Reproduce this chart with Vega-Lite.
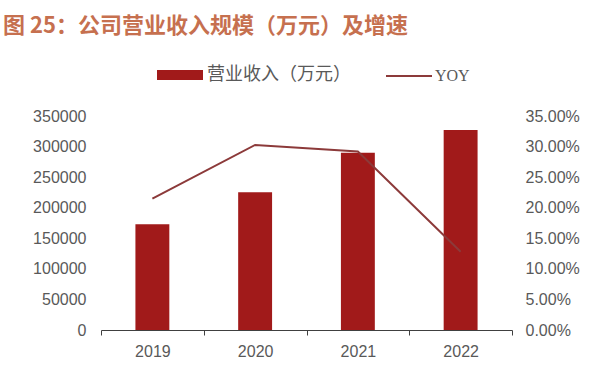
{
  "$schema": "https://vega.github.io/schema/vega-lite/v6.json",
  "width": 411,
  "height": 214,
  "autosize": {"type": "none"},
  "padding": {"left": 101, "top": 116, "right": 88, "bottom": 46},
  "background": "white",
  "config": {"view": {"stroke": null}, "font": "Liberation Sans"},
  "title": {
    "text": "图 25：公司营业收入规模（万元）及增速",
    "anchor": "start",
    "frame": "group",
    "orient": "top",
    "dx": -98,
    "offset": 14,
    "font": "Noto Sans CJK SC",
    "fontSize": 22,
    "fontWeight": "bold",
    "color": "#C6704F"
  },
  "data": {
    "values": [
      {"year": "2019", "revenue": 172900, "yoy": 0.215},
      {"year": "2020", "revenue": 225200, "yoy": 0.3026},
      {"year": "2021", "revenue": 290000, "yoy": 0.292},
      {"year": "2022", "revenue": 327100, "yoy": 0.128}
    ]
  },
  "encoding": {
    "x": {
      "field": "year",
      "type": "nominal",
      "scale": {"paddingInner": 0, "paddingOuter": 0},
      "axis": {
        "title": null,
        "labelAngle": 0,
        "labelFontSize": 16,
        "labelColor": "#595959",
        "labelPadding": 8,
        "domainColor": "#404040",
        "domainWidth": 1,
        "tickColor": "#404040",
        "tickSize": 5,
        "tickBand": "extent",
        "grid": false
      }
    }
  },
  "layer": [
    {
      "mark": {"type": "bar", "width": {"band": 0.33}},
      "encoding": {
        "y": {
          "field": "revenue",
          "type": "quantitative",
          "scale": {"domain": [0, 350000], "nice": false},
          "axis": {
            "title": null,
            "orient": "left",
            "values": [0, 50000, 100000, 150000, 200000, 250000, 300000, 350000],
            "format": "d",
            "labelFontSize": 16,
            "labelColor": "#595959",
            "labelPadding": 15,
            "ticks": false,
            "domain": false,
            "grid": false
          }
        },
        "fill": {
          "datum": "营业收入（万元）",
          "type": "nominal",
          "scale": {"range": ["#A11A1A"]},
          "legend": {
            "title": null,
            "orient": "none",
            "legendX": 56,
            "legendY": -64,
            "symbolType": "M-1,-0.22H1V0.22H-1Z",
            "symbolSize": 2116,
            "symbolStrokeWidth": 0,
            "labelFont": "Noto Sans CJK SC",
            "labelFontSize": 18,
            "labelColor": "#595959",
            "labelOffset": 4,
            "padding": 0
          }
        }
      }
    },
    {
      "mark": {"type": "line", "strokeWidth": 2},
      "encoding": {
        "y": {
          "field": "yoy",
          "type": "quantitative",
          "scale": {"domain": [0, 0.35], "nice": false},
          "axis": {
            "title": null,
            "orient": "right",
            "values": [0, 0.05, 0.1, 0.15, 0.2, 0.25, 0.3, 0.35],
            "format": ".2%",
            "labelFontSize": 16,
            "labelColor": "#595959",
            "labelPadding": 13,
            "ticks": false,
            "domain": false,
            "grid": false
          }
        },
        "stroke": {
          "datum": "YOY",
          "type": "nominal",
          "scale": {"range": ["#8C3A3A"]},
          "legend": {
            "title": null,
            "orient": "none",
            "legendX": 284,
            "legendY": -64,
            "symbolType": "stroke",
            "symbolSize": 2116,
            "symbolStrokeWidth": 2,
            "labelFont": "Liberation Serif",
            "labelFontSize": 16,
            "labelColor": "#595959",
            "labelOffset": 2,
            "padding": 0
          }
        }
      }
    }
  ],
  "resolve": {"scale": {"y": "independent", "fill": "independent", "stroke": "independent"}}
}
